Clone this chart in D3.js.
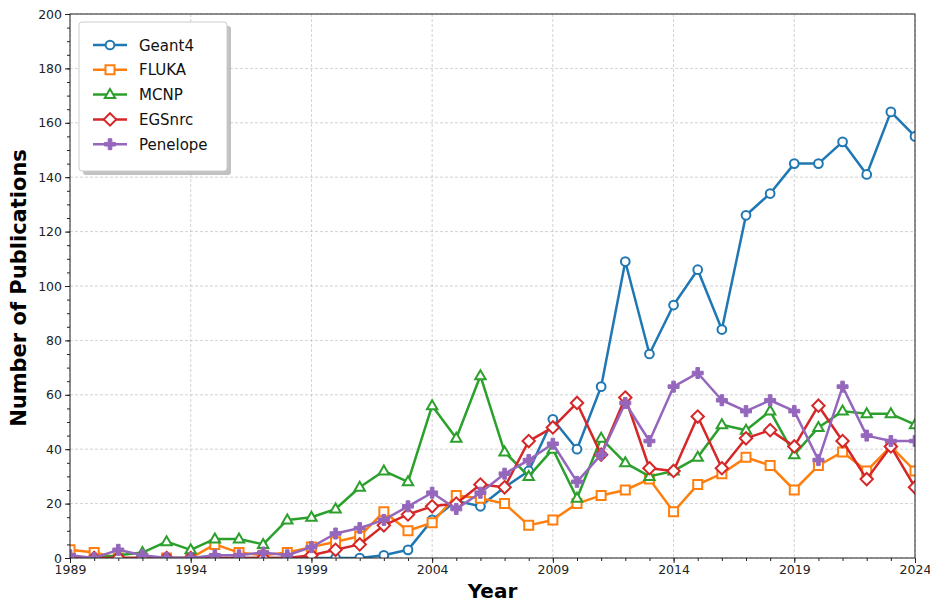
<!DOCTYPE html>
<html>
<head>
<meta charset="utf-8">
<script src="https://cdn.jsdelivr.net/npm/d3@7"></script>
<style>
  body { margin: 0; background: #fff; }
  text { font-family: "DejaVu Sans", sans-serif; }
</style>
</head>
<body>
<script>
// Publications per year for each Monte Carlo code
var years = d3.range(1989, 2025);
var geant4 = [0,0,0,0,0,0,0,0,0,0,0,0,0,1,3,14,21,19,26,32,51,40,63,109,75,93,106,84,126,134,145,145,153,141,164,155];
var fluka = [3,2,0,0,0,0,5,2,1,2,4,6,8,17,10,13,23,22,20,12,14,20,23,25,29,17,27,31,37,34,25,34,39,32,41,32];
var mcnp = [0,0,1,2,6,3,7,7,5,14,15,18,26,32,28,56,44,67,39,30,40,22,44,35,30,32,37,49,47,54,38,48,54,53,53,49];
var egsnrc = [0,0,0,0,0,0,0,0,0,0,1,3,5,12,16,19,20,27,26,43,48,57,38,59,33,32,52,33,44,47,41,56,43,29,41,26];
var penelope = [1,0,3,1,0,0,1,1,2,1,4,9,11,14,19,24,18,24,31,36,42,28,38,57,43,63,68,58,54,58,54,36,63,45,43,43];
var seriesNames = ["Geant4", "FLUKA", "MCNP", "EGSnrc", "Penelope"];
var xTicks = [1989, 1994, 1999, 2004, 2009, 2014, 2019, 2024];
var yTicks = [0, 20, 40, 60, 80, 100, 120, 140, 160, 180, 200];

var seriesValues = [geant4, fluka, mcnp, egsnrc, penelope];
var colors = ["#1f77b4", "#ff7f0e", "#2ca02c", "#d62728", "#9467bd"];
var shapes = ["circle", "square", "triangle", "diamond", "plus"];

var width = 930, height = 602;
var margin = {top: 14, right: 15, bottom: 44, left: 70};
var w = width - margin.left - margin.right;
var h = height - margin.top - margin.bottom;

var svg = d3.select("body").append("svg")
    .attr("width", width)
    .attr("height", height);

var xScale = d3.scaleLinear().domain([1989, 2024]).range([0, w]);
var yScale = d3.scaleLinear().domain([0, 200]).range([h, 0]);

var g = svg.append("g")
    .attr("transform", "translate(" + margin.left + "," + margin.top + ")");

g.append("clipPath").attr("id", "clip")
  .append("rect").attr("width", w).attr("height", h);

// Grid
g.append("g").selectAll("line").data(xTicks).enter().append("line")
    .attr("x1", function(d) { return xScale(d); })
    .attr("x2", function(d) { return xScale(d); })
    .attr("y1", 0).attr("y2", h)
    .attr("stroke", "#b0b0b0").attr("stroke-width", 0.8)
    .attr("stroke-dasharray", "3,2").attr("opacity", 0.7);
g.append("g").selectAll("line").data(yTicks).enter().append("line")
    .attr("y1", function(d) { return yScale(d); })
    .attr("y2", function(d) { return yScale(d); })
    .attr("x1", 0).attr("x2", w)
    .attr("stroke", "#b0b0b0").attr("stroke-width", 0.8)
    .attr("stroke-dasharray", "3,2").attr("opacity", 0.7);

// Marker path generator
function markerPath(shape) {
  if (shape === "circle") return d3.symbol(d3.symbolCircle, 60)();
  if (shape === "square") return "M-4.5,-4.5H4.5V4.5H-4.5Z";
  if (shape === "triangle") return "M0,-5.5L5.2,3.5H-5.2Z";
  if (shape === "diamond") return "M0,-6.2L6.2,0L0,6.2L-6.2,0Z";
  return "M-1.8,-5.5H1.8V-1.8H5.5V1.8H1.8V5.5H-1.8V1.8H-5.5V-1.8H-1.8Z";
}

var line = d3.line()
    .x(function(d) { return xScale(d.year); })
    .y(function(d) { return yScale(d.value); });

var plot = g.append("g").attr("clip-path", "url(#clip)");

seriesValues.forEach(function(vals, i) {
  var data = years.map(function(y, j) { return {year: y, value: vals[j]}; });
  plot.append("path")
      .datum(data)
      .attr("d", line)
      .attr("fill", "none")
      .attr("stroke", colors[i])
      .attr("stroke-width", 2.5)
      .attr("stroke-linejoin", "round");
  plot.append("g").selectAll("path").data(data).enter().append("path")
      .attr("d", markerPath(shapes[i]))
      .attr("transform", function(d) {
        return "translate(" + xScale(d.year) + "," + yScale(d.value) + ")";
      })
      .attr("fill", shapes[i] === "plus" ? colors[i] : "#fff")
      .attr("stroke", colors[i])
      .attr("stroke-width", shapes[i] === "plus" ? 1 : 2);
});

// Axes
var xAxis = d3.axisBottom(xScale).tickValues(xTicks).tickFormat(d3.format("d")).tickSize(5).tickPadding(2);
var xMinor = d3.axisBottom(xScale).tickValues(years).tickFormat("").tickSize(3);
var yAxis = d3.axisLeft(yScale).tickValues(yTicks).tickSize(5).tickPadding(3);
var yMinor = d3.axisLeft(yScale).tickValues(d3.range(0, 201, 5)).tickFormat("").tickSize(3);

g.append("g").attr("transform", "translate(0," + h + ")").call(xMinor);
var gx = g.append("g").attr("transform", "translate(0," + h + ")").call(xAxis);
g.append("g").call(yMinor);
var gy = g.append("g").call(yAxis);
g.selectAll(".domain").remove();
g.selectAll(".tick text").attr("font-size", 12.5).attr("fill", "#222");
g.selectAll(".tick line").attr("stroke", "#222");

// Frame
g.append("rect").attr("width", w).attr("height", h)
    .attr("fill", "none").attr("stroke", "#222").attr("stroke-width", 1);

// Axis titles
svg.append("text")
    .attr("x", margin.left + w / 2).attr("y", 598)
    .attr("text-anchor", "middle")
    .attr("font-size", 20).attr("font-weight", "bold")
    .text("Year");
svg.append("text")
    .attr("transform", "translate(26," + (margin.top + h / 2 + 2) + ") rotate(-90)")
    .attr("text-anchor", "middle")
    .attr("font-size", 21).attr("font-weight", "bold")
    .text("Number of Publications");

// Legend
var legend = svg.append("g").attr("transform", "translate(79,22)");
legend.append("rect").attr("x", 4).attr("y", 4)
    .attr("width", 148).attr("height", 149).attr("rx", 3)
    .attr("fill", "#999").attr("opacity", 0.6);
legend.append("rect")
    .attr("width", 148).attr("height", 149).attr("rx", 3)
    .attr("fill", "#fff").attr("stroke", "#ccc").attr("stroke-width", 1);
seriesNames.forEach(function(name, i) {
  var row = legend.append("g").attr("transform", "translate(0," + (23 + i * 24.8) + ")");
  row.append("line").attr("x1", 14).attr("x2", 48)
      .attr("stroke", colors[i]).attr("stroke-width", 2.5);
  row.append("path").attr("d", markerPath(shapes[i]))
      .attr("transform", "translate(31,0)")
      .attr("fill", shapes[i] === "plus" ? colors[i] : "#fff")
      .attr("stroke", colors[i])
      .attr("stroke-width", shapes[i] === "plus" ? 1 : 2);
  row.append("text").attr("x", 60).attr("y", 5.5)
      .attr("font-size", 15).attr("fill", "#111")
      .text(name);
});
</script>
</body>
</html>
